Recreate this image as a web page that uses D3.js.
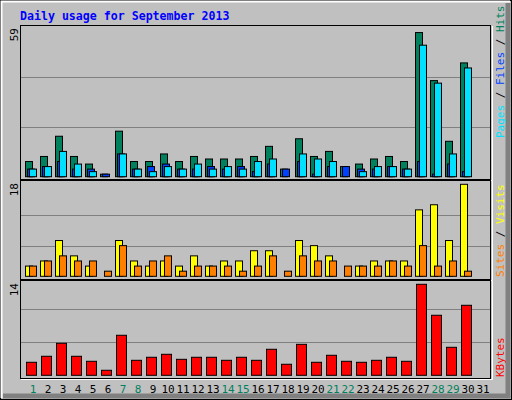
<!DOCTYPE html>
<html><head><meta charset="utf-8">
<script src="https://cdn.jsdelivr.net/npm/d3@7"></script>
<style>body{margin:0;background:#fff}svg{display:block}</style>
</head><body>
<script>
const days = d3.range(1, 32);
const weekendDays = [1,7,8,14,15,21,22,28,29];
const hits  = [6,8,16,8,5,1,18,6,6,9,6,8,7,7,7,8,12,3,15,8,10,4,5,7,8,6,57,38,14,45,0];
const files = [3,4,6,3,3,1,9,3,4,5,3,3,4,3,4,2,5,3,6,1,4,4,3,3,4,3,6,1,5,2,0];
const pages = [3,4,10,5,2,0,9,3,2,4,3,5,3,4,3,6,7,0,9,7,6,0,2,4,4,3,52,37,9,43,0];
const visits = [2,3,7,4,2,0,7,3,2,3,2,4,2,3,3,5,5,0,7,6,4,0,2,3,3,3,13,14,7,18,0];
const sites  = [2,3,4,3,3,1,6,2,3,4,1,2,2,2,1,2,4,1,4,3,3,2,2,2,3,2,6,2,3,1,0];
const kbytes = [1.84,2.69,4.53,2.69,1.98,0.71,5.66,2.12,2.55,2.97,2.26,2.55,2.55,2.12,2.55,2.12,3.68,1.56,4.38,1.84,2.83,1.98,1.84,2.12,2.55,1.98,12.87,8.49,3.96,9.9,0];
const maxLabels = ["59","18","14"];

const W=512,H=400;
const svg=d3.select("body").append("svg").attr("width",W).attr("height",H);
const font="'DejaVu Sans Mono', monospace";
svg.append("rect").attr("width",W).attr("height",H).attr("fill","#c0c0c0");
// 3D frame
svg.append("rect").attr("x",0.5).attr("y",0.5).attr("width",W-1).attr("height",H-1).attr("fill","none").attr("stroke","#000");
svg.append("path").attr("d",`M1.5,${H-2}V1.5H${W-2}`).attr("stroke","#fff").attr("stroke-width",2).attr("fill","none");
svg.append("path").attr("d",`M${W-4},3V${H-4}H3`).attr("stroke","#808080").attr("stroke-width",5).attr("fill","none");

svg.append("text").attr("x",20).attr("y",20).attr("fill","#0000ff").attr("font-family",font)
  .attr("font-weight","bold").attr("font-size","11.6px").text("Daily usage for September 2013");

const x=d3.scaleBand().domain(days).range([25,490]).paddingInner(0).paddingOuter(0);
const step=15;
const xs=d=>25+(d-1)*step;

const panels=[
 {top:25,bottom:179,base:176.7,max:59},
 {top:180,bottom:279,base:276.3,max:18},
 {top:280,bottom:378,base:375.3,max:14}
];
const scales=[
 d3.scaleLinear().domain([0,59]).range([176.7,27.5]),
 d3.scaleLinear().domain([0,18]).range([276.3,184.3]),
 d3.scaleLinear().domain([0,14]).range([375.3,276.3])
];
panels.forEach((p,i)=>{
  svg.append("rect").attr("x",20.5).attr("y",p.top+0.5).attr("width",470).attr("height",p.bottom-p.top)
    .attr("fill","#c0c0c0").attr("stroke","#000");
  svg.append("path").attr("d",`M21,${p.bottom+1.5}H${492.5}V${p.top+1}`).attr("stroke","#fff").attr("fill","none");
  const s=scales[i];
  [p.max/3,2*p.max/3].forEach(v=>svg.append("line").attr("x1",21).attr("x2",490).attr("y1",Math.round(s(v))+0.5).attr("y2",Math.round(s(v))+0.5).attr("stroke","#808080"));
  svg.append("text").attr("transform",`translate(18,${p.top+3}) rotate(-90)`).attr("text-anchor","end")
    .attr("font-family",font).attr("font-size","11px").attr("fill","#000").text(maxLabels[i]);
});

function bars(data,scale,off,w,color){
  svg.append("g").selectAll("rect").data(data.map((v,i)=>({v,d:i+1})).filter(o=>o.v>0)).join("rect")
    .attr("x",o=>xs(o.d)+off+0.5).attr("width",w).attr("y",o=>scale(o.v)).attr("height",o=>scale(0)-scale(o.v))
    .attr("fill",color).attr("stroke","#000");
}
bars(hits,scales[0],0,7,"#00805c");
bars(files,scales[0],2,7,"#0040ff");
bars(pages,scales[0],4,7,"#00e0ff");
bars(visits,scales[1],0,7,"#ffff00");
bars(sites,scales[1],4,7,"#ff8000");
bars(kbytes,scales[2],1,10,"#ff0000");

svg.append("g").selectAll("text").data(days).join("text")
  .attr("x",d=>xs(d)+8).attr("y",393).attr("text-anchor","middle").attr("font-family",font).attr("font-size","11px")
  .attr("fill",d=>weekendDays.includes(d)?"#00805c":"#000").text(d=>d);

function sideLabel(y,parts){
  const t=svg.append("text").attr("transform",`translate(504,${y}) rotate(-90)`).attr("font-family",font).attr("font-size","11px");
  parts.forEach(([s,c])=>t.append("tspan").attr("fill",c).text(s));
}
sideLabel(138,[["Pages","#00e0ff"],[" / ","#000"],["Files","#0040ff"],[" / ","#000"],["Hits","#00805c"]]);
sideLabel(277,[["Sites","#ff8000"],[" / ","#000"],["Visits","#ffff00"]]);
sideLabel(377,[["KBytes","#ff0000"]]);
</script>
</body></html>
